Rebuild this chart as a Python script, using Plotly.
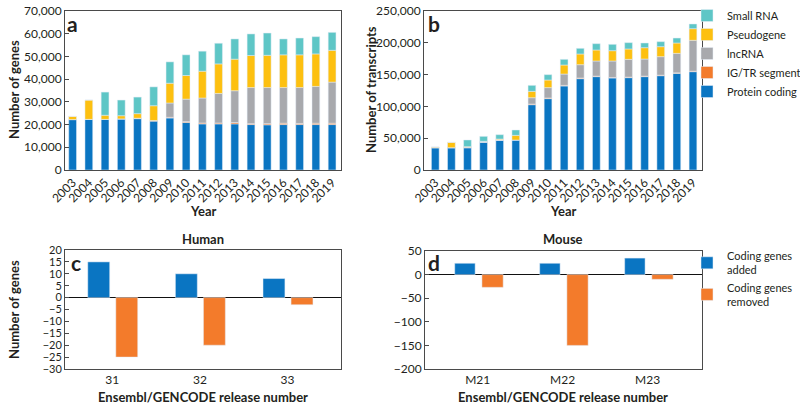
import plotly.graph_objects as go

W, H = 800, 409

YEARS = ['2003', '2004', '2005', '2006', '2007', '2008', '2009', '2010', '2011',
         '2012', '2013', '2014', '2015', '2016', '2017', '2018', '2019']

# panel a: number of genes
genes_protein = [22200, 22300, 22300, 22500, 22600, 21500, 22900, 20900, 20300,
                 20300, 20300, 20000, 19900, 20000, 20000, 20000, 20000]
genes_igtr = [0, 0, 0, 0, 200, 300, 300, 400, 400, 400, 600, 400, 500, 600, 500, 600, 600]
genes_lncrna = [0, 0, 0, 0, 0, 0, 6300, 9900, 11000, 13000, 14000, 15900, 15900,
                15700, 15800, 16200, 18100]
genes_pseudo = [1400, 8500, 1800, 1400, 2000, 6500, 8700, 10400, 11800, 13000, 13900,
                14100, 14200, 14400, 14400, 14300, 14000]
genes_small = [0, 0, 10200, 6900, 7300, 8300, 9400, 9100, 8800, 9100, 8900, 9500,
               9800, 7000, 7400, 7600, 7900]

# panel b: number of transcripts
tx_protein = [35100, 35100, 35100, 43500, 46600, 47200, 102700, 112200, 132100,
              143600, 146800, 144700, 145200, 146800, 148300, 152000, 154600]
tx_igtr = [0, 0, 0, 0, 0, 0, 1000, 1000, 1000, 1000, 800, 800, 800, 800, 800, 800, 800]
tx_lncrna = [0, 0, 800, 1600, 1000, 0, 10000, 16300, 17800, 21000, 23800, 25900,
             28000, 26900, 29100, 30600, 48500]
tx_pseudo = [1100, 8400, 800, 0, 1100, 7300, 10000, 12000, 14200, 16800, 17300,
             16200, 16300, 17800, 15700, 16300, 18300]
tx_small = [0, 0, 10500, 7800, 6800, 8400, 9400, 8400, 8900, 8900, 9900, 10000,
            9900, 7400, 7900, 7800, 7400]

# panels c and d: coding genes added / removed per release
human_releases = ['31', '32', '33']
human_added = [15, 10, 8]
human_removed = [-25, -20, -3]
mouse_releases = ['M21', 'M22', 'M23']
mouse_added = [24, 24, 35]
mouse_removed = [-27, -150, -10]

C_PROTEIN = '#0a75c2'
C_IGTR = '#f37b2b'
C_LNC = '#a8a9ad'
C_PSEUDO = '#fdc010'
C_SMALL = '#5ec6c6'

FONT = 'Lato'
TXT = '#231f20'
LINE = '#4a4a4a'


def px(x):
    return x / W


def py(y):
    return 1 - y / H


fig = go.Figure()

stack_series = [
    ('Protein coding', C_PROTEIN, genes_protein, tx_protein),
    ('IG/TR segment', C_IGTR, genes_igtr, tx_igtr),
    ('lncRNA', C_LNC, genes_lncrna, tx_lncrna),
    ('Pseudogene', C_PSEUDO, genes_pseudo, tx_pseudo),
    ('Small RNA', C_SMALL, genes_small, tx_small),
]

for name, color, g, t in stack_series:
    fig.add_trace(go.Bar(x=YEARS, y=g, name=name, marker_color=color, width=0.48,
                         xaxis='x', yaxis='y', showlegend=False))
    fig.add_trace(go.Bar(x=YEARS, y=t, name=name, marker_color=color, width=0.48,
                         xaxis='x2', yaxis='y2', legend='legend'))

fig.add_trace(go.Bar(x=human_releases, y=human_added, name='Coding genes<br>added',
                     marker_color=C_PROTEIN, width=0.25, offset=-0.28,
                     xaxis='x3', yaxis='y3', showlegend=False))
fig.add_trace(go.Bar(x=human_releases, y=human_removed, name='Coding genes<br>removed',
                     marker_color=C_IGTR, width=0.25, offset=0.04,
                     xaxis='x3', yaxis='y3', showlegend=False))
fig.add_trace(go.Bar(x=mouse_releases, y=mouse_added, name='Coding genes<br>added',
                     marker_color=C_PROTEIN, width=0.24, offset=-0.27,
                     xaxis='x4', yaxis='y4', legend='legend2'))
fig.add_trace(go.Bar(x=mouse_releases, y=mouse_removed, name='Coding genes<br>removed',
                     marker_color=C_IGTR, width=0.25, offset=0.05,
                     xaxis='x4', yaxis='y4', legend='legend2'))

tick_font = dict(family=FONT, size=12, color=TXT)
small_tick_font = dict(family=FONT, size=11, color=TXT)
common_x = dict(showline=True, linecolor=LINE, linewidth=1, mirror=True,
                ticks='', ticklen=0, showgrid=False, zeroline=False,
                tickfont=tick_font, type='category')
common_y = dict(showline=True, linecolor=LINE, linewidth=1, mirror=True,
                ticks='inside', ticklen=4, tickcolor=LINE, showgrid=False,
                tickfont=tick_font)
legend_font = dict(family=FONT, size=11, color=TXT)

fig.update_layout(
    width=W, height=H,
    margin=dict(l=0, r=0, t=0, b=0, autoexpand=False),
    plot_bgcolor='white', paper_bgcolor='white',
    barmode='relative',
    font=dict(family=FONT, color=TXT),
    xaxis=dict(common_x, domain=[px(65), px(341)], anchor='y',
               range=[-0.47, 16.55], tickangle=-45),
    yaxis=dict(common_y, domain=[py(170), py(11)], anchor='x',
               range=[0, 70000], dtick=10000, tickformat=',', zeroline=False),
    xaxis2=dict(common_x, domain=[px(424), px(702)], anchor='y2',
                range=[-0.7, 16.56], tickangle=-45),
    yaxis2=dict(common_y, domain=[py(170), py(11)], anchor='x2',
                range=[0, 250000], dtick=50000, tickformat=',', zeroline=False),
    xaxis3=dict(common_x, domain=[px(65), px(341)], anchor='y3',
                range=[-0.54, 2.61]),
    yaxis3=dict(common_y, domain=[py(369), py(250)], anchor='x3',
                range=[-30, 20], dtick=5, zeroline=True, zerolinecolor='#111',
                zerolinewidth=1, tickfont=small_tick_font),
    xaxis4=dict(common_x, domain=[px(425), px(702)], anchor='y4',
                range=[-0.62, 2.64]),
    yaxis4=dict(common_y, domain=[py(369), py(251)], anchor='x4',
                range=[-200, 50], dtick=50, zeroline=True, zerolinecolor='#111',
                zerolinewidth=1),
    legend=dict(x=px(687), y=py(1), xanchor='left', yanchor='top',
                traceorder='reversed', font=legend_font,
                bgcolor='rgba(0,0,0,0)', itemwidth=30, tracegroupgap=0),
    legend2=dict(x=px(687), y=py(242), xanchor='left', yanchor='top',
                 font=legend_font, bgcolor='rgba(0,0,0,0)', itemwidth=30,
                 tracegroupgap=0),
)

bold = dict(family=FONT, size=13, color=TXT)
letter = dict(family=FONT, size=21, color=TXT)
annotations = [
    # panel letters
    dict(text='<b>a</b>', x=px(65), y=py(9), xanchor='left', yanchor='top', font=letter),
    dict(text='<b>b</b>', x=px(426), y=py(9), xanchor='left', yanchor='top', font=letter),
    dict(text='<b>c</b>', x=px(69), y=py(248), xanchor='left', yanchor='top', font=letter),
    dict(text='<b>d</b>', x=px(426), y=py(248), xanchor='left', yanchor='top', font=letter),
    # axis titles
    dict(text='<b>Year</b>', x=px(203), y=py(211), font=bold),
    dict(text='<b>Year</b>', x=px(563), y=py(211), font=bold),
    dict(text='<b>Number of genes</b>', x=px(14), y=py(90), textangle=-90, font=bold),
    dict(text='<b>Number of transcripts</b>', x=px(371), y=py(90), textangle=-90, font=bold),
    dict(text='<b>Number of genes</b>', x=px(14), y=py(310), textangle=-90, font=bold),
    dict(text='<b>Human</b>', x=px(203), y=py(239), font=bold),
    dict(text='<b>Mouse</b>', x=px(563), y=py(239), font=bold),
    dict(text='<b>Ensembl/GENCODE release number</b>', x=px(203), y=py(397), font=bold),
    dict(text='<b>Ensembl/GENCODE release number</b>', x=px(563), y=py(397), font=bold),
]
for a in annotations:
    a.setdefault('xanchor', 'center')
    a.setdefault('yanchor', 'middle')
    a.update(xref='paper', yref='paper', showarrow=False)
fig.update_layout(annotations=annotations)

# the page's default body margin would push the fixed-size figure off the window
fig.write_html('out.html', config={'displayModeBar': False},
               post_script="document.body.style.margin = '0';")
